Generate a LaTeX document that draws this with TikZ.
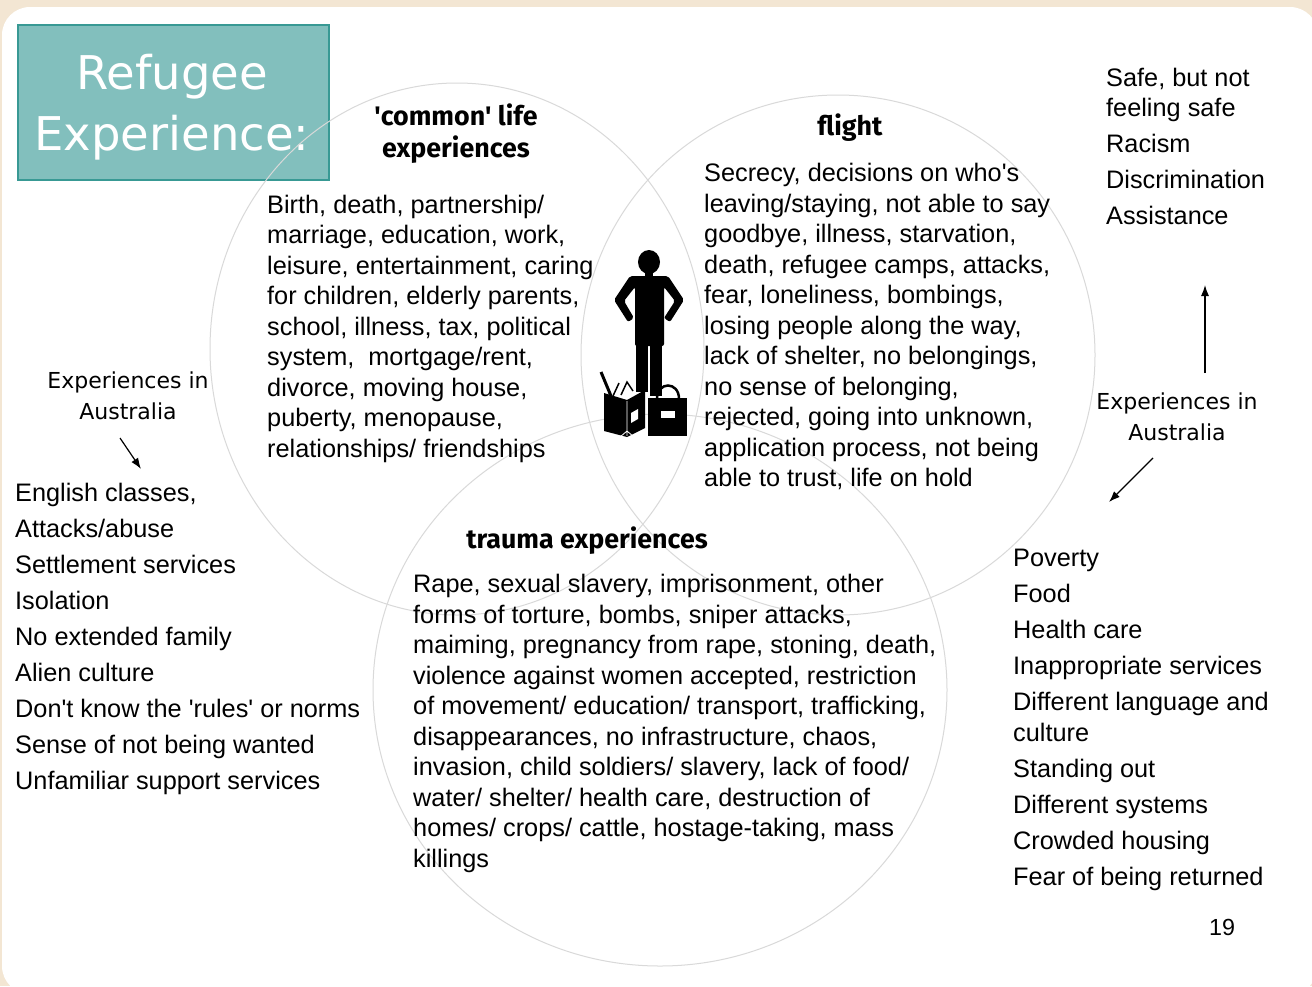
\documentclass[tikz,border=0pt]{standalone}
\usepackage{fontspec}
\setmainfont{Liberation Sans}
\newfontfamily\headfont{Fira Sans}
\newfontfamily\dejafont{DejaVu Sans}
\usetikzlibrary{arrows.meta}
\definecolor{paper}{HTML}{F3E6D3}
\definecolor{tealbox}{HTML}{82BFBD}
\definecolor{tealline}{HTML}{389994}
\definecolor{ring}{HTML}{D9D9D9}
\newcommand{\bodysize}{\fontsize{25.3}{30.5}\selectfont}
\newcommand{\headsize}{\headfont\bfseries\fontsize{26.8}{31}\selectfont}
\newcommand{\aussize}{\dejafont\fontsize{22}{31}\selectfont}
\newcommand{\titlesize}{\dejafont\fontsize{46.5}{61}\selectfont}
\newcommand{\q}{\textquotesingle}

\begin{document}
\begin{tikzpicture}[x=1pt, y=-1pt, >={Latex[length=11pt,width=8pt]},
  txt/.style={anchor=north west, inner sep=0pt, align=left, font=\bodysize},
  head/.style={inner sep=0pt, font=\headsize},
  aus/.style={anchor=north, inner sep=0pt, align=center, font=\aussize},
  ringline/.style={draw=ring, line width=1pt},
  arrow/.style={->, line width=1.2pt}]
  \useasboundingbox (0,0) rectangle (1312,986);
  \fill[paper] (0,0) rectangle (1312,986);
  \fill[white, rounded corners=28pt] (2,7) rectangle (1318,994);

  % title box
  \node[draw=tealline, line width=1.5pt, fill=tealbox, minimum width=311pt, minimum height=155pt, anchor=north west, inner sep=0pt] (box) at (17,24) {};
  \node[anchor=north, inner sep=0pt, align=center, text=white, font=\titlesize] (title) at (172,46.3) {\strut Refugee\\Experience:};

  % three rings
  \draw[ringline] (457,349) coordinate (common) ellipse [x radius=247pt, y radius=266pt];
  \draw[ringline] (838,355) coordinate (flight) ellipse [x radius=257pt, y radius=260pt];
  \draw[ringline] (660,690) coordinate (trauma) ellipse [x radius=287pt, y radius=276pt];

  % headings
  \node[head, anchor=north, align=center] (commonhead) at (456,103.3) {\strut\q common\q{} life\\experiences};
  \node[head, anchor=base] (flighthead) at (850,135) {flight};
  \node[head, anchor=base] (traumahead) at (587,548) {trauma experiences};

  % ring texts
  \node[txt] (commontxt) at (267,191.7) {\strut Birth, death, partnership/\\
    marriage, education, work,\\
    leisure, entertainment, caring\\
    for children, elderly parents,\\
    school, illness, tax, political\\
    system, \ mortgage/rent,\\
    divorce, moving house,\\
    puberty, menopause,\\
    relationships/ friendships};
  \node[txt] (flighttxt) at (704,160.2) {\strut Secrecy, decisions on who\q s\\
    leaving/staying, not able to say\\
    goodbye, illness, starvation,\\
    death, refugee camps, attacks,\\
    fear, loneliness, bombings,\\
    losing people along the way,\\
    lack of shelter, no belongings,\\
    no sense of belonging,\\
    rejected, going into unknown,\\
    application process, not being\\
    able to trust, life on hold};
  \node[txt] (traumatxt) at (413,571.2) {\strut Rape, sexual slavery, imprisonment, other\\
    forms of torture, bombs, sniper attacks,\\
    maiming, pregnancy from rape, stoning, death,\\
    violence against women accepted, restriction\\
    of movement/ education/ transport, trafficking,\\
    disappearances, no infrastructure, chaos,\\
    invasion, child soldiers/ slavery, lack of food/\\
    water/ shelter/ health care, destruction of\\
    homes/ crops/ cattle, hostage-taking, mass\\
    killings};

  % side lists
  \node[aus] (ausleft) at (128,366.3) {\strut Experiences in\\Australia};
  \node[txt] (leftlist) at (15,480.2) {\strut English classes,\\[5.5pt]
    Attacks/abuse\\[5.5pt]
    Settlement services\\[5.5pt]
    Isolation\\[5.5pt]
    No extended family\\[5.5pt]
    Alien culture\\[5.5pt]
    Don\q t know the \q rules\q{} or norms\\[5.5pt]
    Sense of not being wanted\\[5.5pt]
    Unfamiliar support services};
  \node[txt] (safelist) at (1106,64.7) {\strut Safe, but not\\
    feeling safe\\[5.5pt]
    Racism\\[5.5pt]
    Discrimination\\[5.5pt]
    Assistance};
  \node[aus] (ausright) at (1177,387.3) {\strut Experiences in\\Australia};
  \node[txt] (rightlist) at (1013,545.2) {\strut Poverty\\[5.5pt]
    Food\\[5.5pt]
    Health care\\[5.5pt]
    Inappropriate services\\[5.5pt]
    Different language and\\
    culture\\[5.5pt]
    Standing out\\[5.5pt]
    Different systems\\[5.5pt]
    Crowded housing\\[5.5pt]
    Fear of being returned};
  \node[anchor=base, inner sep=0pt, font=\fontsize{23.3}{28}\selectfont] (page) at (1222,935) {19};

  % arrows
  \coordinate (la0) at (120,438); \coordinate (la1) at (141,469);
  \coordinate (ra0) at (1153,458); \coordinate (ra1) at (1109,502);
  \coordinate (ua0) at (1205,373); \coordinate (ua1) at (1205,285);
  \draw[arrow] (la0) -- (la1);
  \draw[arrow] (ra0) -- (ra1);
  \draw[arrow] (ua0) -- (ua1);

  % figure with bags
  \fill (649,262) ellipse [x radius=11pt, y radius=12pt];
  \fill (645,270) rectangle (653,279);
  \fill[rounded corners=2pt] (630,276) -- (668,276) -- (684,300) -- (670,322) -- (664,318) -- (675,301) -- (664,287)
    -- (664,346) -- (635,346) -- (635,287) -- (624,301) -- (634,318) -- (628,322) -- (614,300) -- cycle;
  \fill (636,344) rectangle (648,392);
  \fill (650,344) rectangle (662,396);
  \draw[line width=3pt] (601,372) -- (611,396);
  \draw[line width=1.5pt] (613,396) -- (619,383) (621,395) -- (627,382) -- (633,391);
  \fill (604,393) -- (627,400) -- (645,390) -- (645,428) -- (627,437) -- (604,431) -- cycle;
  \draw[white, line width=0.8pt] (627,401) -- (627,436) (620,437) -- (627,431) -- (634,437);
  \fill[white] (631,413) -- (638,409) -- (638,419) -- (631,423) -- cycle;
  \draw[line width=2.5pt] (657,399) .. controls (657,381) and (679,381) .. (679,399);
  \fill (648,398) rectangle (687,436);
  \fill[white] (661,411) rectangle (675,418);
\end{tikzpicture}
\end{document}
